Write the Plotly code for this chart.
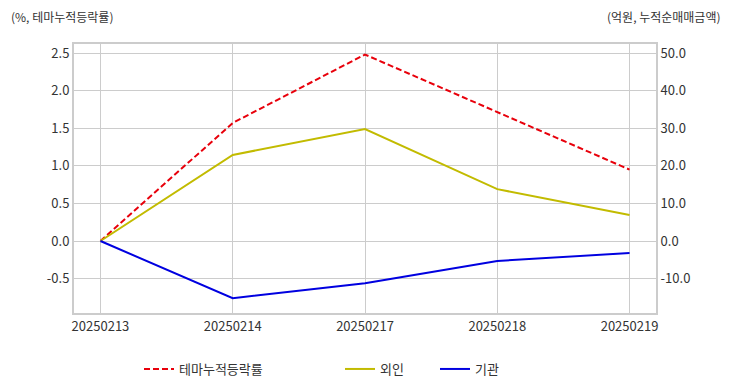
import plotly.graph_objects as go

dates = ["20250213", "20250214", "20250217", "20250218", "20250219"]
theme_rate = [0.0, 1.57, 2.48, 1.71, 0.95]
foreign = [0.0, 22.9, 29.8, 13.8, 6.9]
institution = [0.0, -15.2, -11.2, -5.3, -3.2]

FONT = "Noto Sans CJK KR"
GRID = "#cccccc"
TXT = "#333333"

# the page body has an 8px margin, so figure coords = screen coords - 8
OFF = 8
L, R, T, B = 74 - OFF, 656 - OFF, 44 - OFF, 313 - OFF

fig = go.Figure()
fig.add_trace(go.Scatter(x=dates, y=theme_rate, name="테마누적등락률", mode="lines",
                         line=dict(color="#e8000b", width=2, dash="6px,3px"), yaxis="y",
                         legend="legend"))
fig.add_trace(go.Scatter(x=dates, y=foreign, name="외인", mode="lines",
                         line=dict(color="#c2bb00", width=2), yaxis="y2",
                         legend="legend2"))
fig.add_trace(go.Scatter(x=dates, y=institution, name="기관", mode="lines",
                         line=dict(color="#0000e0", width=2), yaxis="y2",
                         legend="legend3"))

def px_x(p):
    return (p - OFF - L) / float(R - L)

def px_y(p):
    return (B - (p - OFF)) / float(B - T)

leg_common = dict(orientation="h", yanchor="middle", xanchor="left",
                  font=dict(size=13, color=TXT), bgcolor="rgba(0,0,0,0)",
                  itemwidth=30)

fig.update_layout(
    width=732, height=392,
    margin=dict(l=L, r=732 - R, t=T, b=392 - B, autoexpand=False),
    paper_bgcolor="white", plot_bgcolor="white",
    font=dict(family=FONT, size=13, color=TXT),
    showlegend=True,
    legend=dict(x=px_x(139), y=px_y(369), **leg_common),
    legend2=dict(x=px_x(340), y=px_y(369), **leg_common),
    legend3=dict(x=px_x(435), y=px_y(369), **leg_common),
    xaxis=dict(type="category", range=[-0.2, 4.2], showgrid=True, gridcolor=GRID,
               showline=True, linecolor=GRID, linewidth=2, mirror=True, ticks="",
               tickfont=dict(size=13), zeroline=False, automargin=False),
    yaxis=dict(range=[-0.957, 2.62], tickvals=[-0.5, 0, 0.5, 1.0, 1.5, 2.0, 2.5],
               ticktext=["-0.5", "0.0", "0.5", "1.0", "1.5", "2.0", "2.5"],
               showgrid=True, gridcolor=GRID, zeroline=False, showline=True,
               linecolor=GRID, linewidth=2, ticks="", tickfont=dict(size=13),
               automargin=False),
    yaxis2=dict(range=[-19.14, 52.4], overlaying="y", side="right",
                tickvals=[-10, 0, 10, 20, 30, 40, 50],
                ticktext=["-10.0", "0.0", "10.0", "20.0", "30.0", "40.0", "50.0"],
                showgrid=True, gridcolor=GRID, zeroline=False, showline=True,
                linecolor=GRID, linewidth=2, ticks="", tickfont=dict(size=13),
                automargin=False),
    annotations=[
        dict(text="(%, 테마누적등락률)", xref="paper", yref="paper", x=px_x(9), y=px_y(16),
             xanchor="left", yanchor="middle", showarrow=False, font=dict(size=12, color=TXT)),
        dict(text="(억원, 누적순매매금액)", xref="paper", yref="paper", x=px_x(723), y=px_y(16),
             xanchor="right", yanchor="middle", showarrow=False, font=dict(size=12, color=TXT)),
    ],
)

fig.write_html("out.html")
